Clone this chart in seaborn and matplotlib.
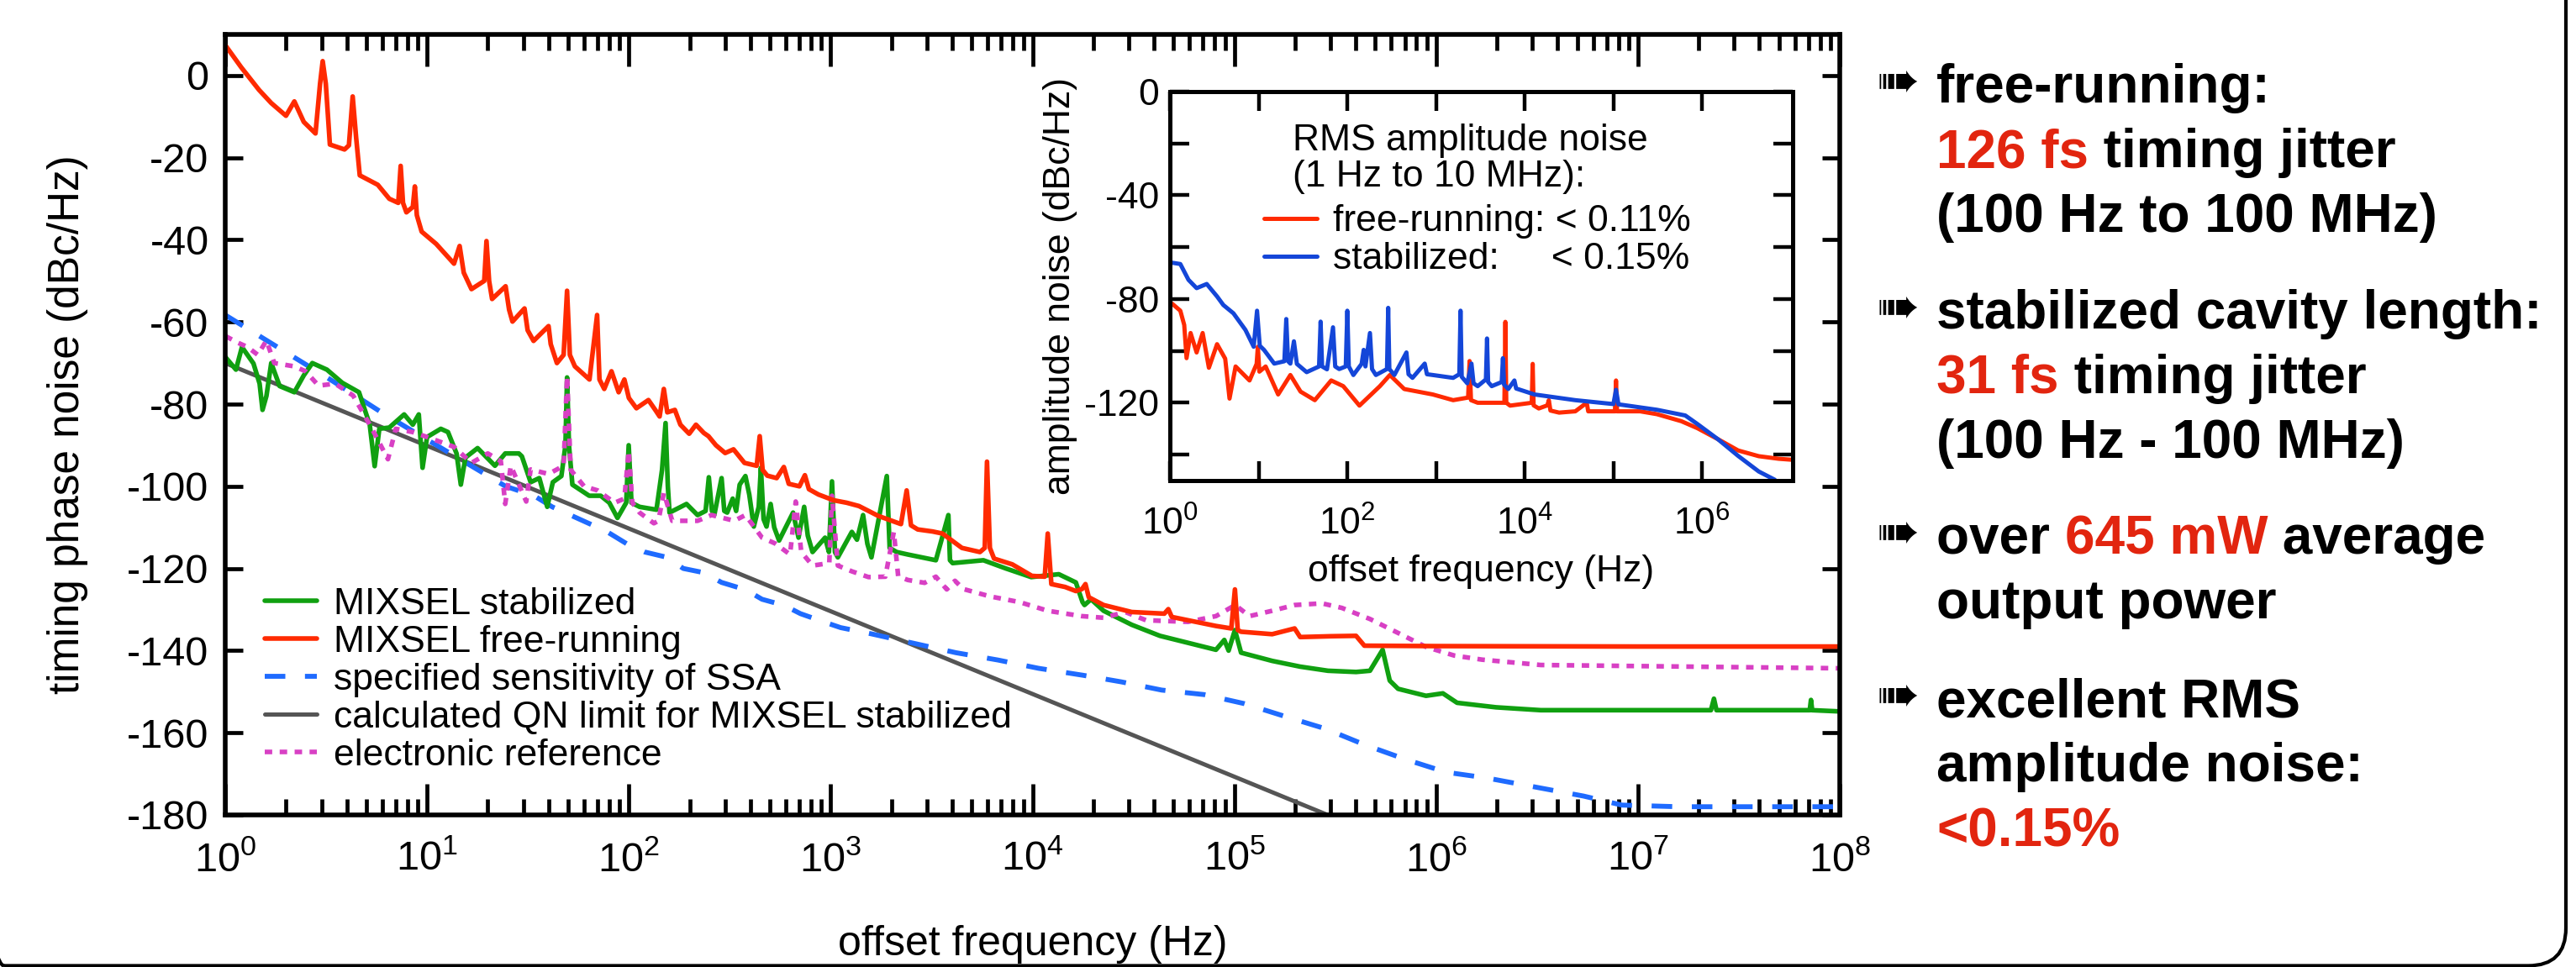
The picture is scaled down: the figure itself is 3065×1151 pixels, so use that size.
import numpy as np
import matplotlib.pyplot as plt
import seaborn as sns
from matplotlib.ticker import LogLocator, NullLocator, NullFormatter
from matplotlib.patches import FancyBboxPatch
from matplotlib.transforms import IdentityTransform

# ── Data ──────────────────────────────────────────────────────────────────────
# main plot: timing phase noise (dBc/Hz) vs offset frequency (Hz)
free_f = [1, 1.2, 1.47, 1.69, 2.0, 2.2, 2.45, 2.8, 2.95, 3.04, 3.15, 3.3, 3.9, 4.1, 4.28, 4.45,
          4.64, 5.7, 6.5, 7.2, 7.4, 7.6, 7.9, 8.5, 8.7, 8.9, 9.4, 11.1, 13.6, 14.5, 15.2, 16.6,
          19.2, 19.7, 20.3, 21, 24.5, 25.5, 26.5, 30.4, 31.5, 33.7, 40, 41, 44, 47.5, 49.4, 51,
          54, 63.8, 69.6, 71.5, 75.5, 82, 89, 95, 100, 109, 125, 136, 142, 149, 155, 169, 180,
          199, 215, 235, 248, 270, 300, 330, 374, 430, 445, 460, 485, 540, 586, 620, 700, 745,
          780, 870, 1035, 1200, 1380, 1720, 2230, 2380, 2500, 2700, 3200, 3580, 4470, 5490,
          5800, 5950, 6150, 6450, 7940, 9930, 11500, 11900, 12400, 14500, 16400, 17600, 18300,
          19000, 22500, 31000, 45000, 47100, 49000, 58900, 81100, 96600, 100700, 104000,
          108000, 154000, 199000, 212000, 300000, 401000, 441000, 1e6, 1e7, 1e8]
free_db = [7.4, 2, -3.5, -6.7, -9.8, -6.3, -11.3, -14.1, -2, 3.5, -2, -16.8, -18, -17, -5.1, -15,
           -24.3, -26.6, -30, -31, -22, -31, -33.3, -32, -27, -34, -38, -41, -45.8, -41.5, -48, -52,
           -50, -40.3, -50, -54.4, -51.3, -57, -59.9, -56.7, -62, -64.6, -61, -65.4, -70, -68, -52.4, -68,
           -70.8, -74, -58.3, -74, -76.3, -72, -77.1, -74, -78.5, -81, -79, -81.6, -83, -76.3, -82, -81.4, -85,
           -87.2, -85, -87, -87.8, -90, -91.9, -91, -94.3, -95, -87.8, -96, -97.4, -98, -95.3, -99.4, -100, -97.3,
           -100.7, -102, -103.4, -104, -104.8, -107.2, -109.2, -101, -109.5, -110.5, -111, -111.5, -115, -116,
           -115, -94, -115, -117.6, -119, -121.8, -122, -111.5, -123.8, -124.5, -125.5, -125, -123.8,
           -127, -128.9, -130.6, -131, -129.9, -131.8, -132.6, -134, -134.6, -125.1, -135,
           -135.4, -136, -134.6, -136.7, -136.5, -136.4, -138.8, -138.9, -139, -139]

stab_f = [1, 1.13, 1.21, 1.38, 1.48, 1.53, 1.6, 1.69, 1.86, 2.2, 2.45, 2.7, 3.19, 3.8, 4.6, 5.2,
          5.5, 5.8, 6.5, 7.7, 8.5, 9.1, 9.5, 10, 11.7, 12.7, 14, 14.7, 15.5, 17.8, 21.7, 24.4, 28.5,
          29.5, 32.6, 36, 39.4, 42, 46.3, 48.5, 49.4, 50.5, 52.5, 63.6, 72.5, 80, 87.8, 97, 99.8, 103,
          113, 137, 146, 152, 156, 159, 193, 219, 240, 249, 258, 265, 288, 297, 307, 327, 340, 354,
          378, 395, 416, 440, 451, 465, 481, 504, 525, 555, 651, 693, 739, 770, 813, 938, 980, 1015,
          1050, 1085, 1273, 1350, 1447, 1520, 1592, 1897, 1960, 2123, 2410, 3320, 3830, 3900, 4020,
          5710, 7380, 9850, 13500, 16400, 17700, 18100, 19500, 22500, 31000, 42800, 58900, 81100,
          89200, 93700, 100700, 108000, 154000, 212000, 291000, 401000, 470000, 543000, 589000,
          648000, 891000, 1.08e6, 1.27e6, 1.98e6, 3.3e6, 2.3e7, 2.38e7, 2.45e7, 7.1e7, 7.2e7, 7.3e7, 1e8]
stab_db = [-68.5, -71.6, -66.1, -70.1, -75, -81.4, -78, -70, -75.6, -77.1, -73, -70, -71.6, -74.8, -77.1, -85,
           -95.1, -86, -85.7, -82.5, -85, -82.5, -95.5, -88, -86, -86.8, -92, -99.6, -93, -90.7, -95, -92, -92,
           -92.7, -99, -98, -105, -99, -97.5, -90, -73.5, -90, -99.6, -102.3, -102.3, -104, -107.7, -104, -90, -104,
           -105, -105.7, -96, -84.6, -100, -106.4, -104.3, -107, -106, -97.8, -106, -107, -98, -106, -106.4, -103, -106, -99.6,
           -97.5, -102, -109.8, -105, -95.5, -108, -109.8, -104.3, -110, -113.2, -106.4, -112.5, -105, -112, -116, -112.5, -116, -98.8,
           -116, -117.3, -111.1, -113, -107, -114, -117.3, -97.5, -115, -116, -116.6, -118, -107, -118, -118.7,
           -118, -120, -122.1, -121.4, -123.4, -128.2, -128.9, -127.5, -130.3, -133.7, -136.4, -138.1, -139.8,
           -137.4, -140, -135, -140.5, -142.5, -143.9, -144.9, -145.2, -144.9, -139.8, -147.3,
           -149.3, -151, -150.4, -152.7, -153.8, -154.5, -154.5, -151.7, -154.5, -154.5, -152, -154.5, -154.8]

ssa_f = [1, 3.24, 6.17, 24.5, 33.9, 41.7, 51.3, 63.1, 77.6, 97.7, 120, 155, 186, 234, 288, 380, 457,
         589, 708, 923, 1120, 1585, 2570, 4170, 6760, 10700, 17800, 27500, 43600, 70800, 112000,
         178000, 282000, 447000, 708000, 1.12e6, 1.78e6, 5.37e6, 8.32e6, 1.58e7, 1e8]
ssa_db = [-58.3, -73.7, -82.5, -100, -102.3, -105, -107, -109, -111, -114, -116, -117.3, -120, -121, -123.4, -125.2, -127.5,
          -129, -131, -133, -134.4, -135.9, -138.2, -140.5, -142.3, -144.3, -146, -147.6, -149.6, -150.7, -152.9,
          -156, -159, -163, -166.5, -169.6, -171, -175.4, -177.6, -178, -178]

qn_f = [1, 2.9e5]
qn_db = [-70, -180]

ref_f = [1, 1.15, 1.29, 1.45, 1.6, 1.75, 2.2, 2.5, 2.9, 3.5, 4.3, 5.3, 6.4, 7, 8.5, 10, 13.6, 16.6, 20,
         23.2, 24.4, 26, 31, 32.6, 40, 47.5, 49.4, 51.5, 60, 70, 85, 95, 99.8, 104, 113, 133, 140, 149, 164,
         219, 257, 333, 378, 457, 530, 629, 671, 715, 813, 984, 1015, 1085, 1273, 1540, 1866, 2055, 2160,
         2410, 2920, 3320, 3760, 4130, 4540, 6160, 8650, 11900, 17500, 22500, 28800, 36500, 58900, 81100,
         101000, 119000, 154000, 199000, 272000, 341000, 470000, 648000, 891000, 1.23e6, 1.69e6, 3.3e6, 1e8]
ref_db = [-63.4, -65, -66.1, -68, -64.5, -70, -70.8, -72, -75.5, -75, -77.9, -85.7, -93.4, -86, -86.8, -88, -90.4, -94.3, -92,
          -93.9, -104.3, -95, -103.7, -95.9, -97, -95, -73.2, -96, -100, -101, -104, -103, -91.4, -104, -106.4, -109, -108.4, -101.6, -108.4,
          -108.4, -107, -108.4, -107, -112.5, -113.9, -116.6, -103.7, -116, -119.3, -118.7, -102.3, -119.3, -120.7, -122.1, -122, -111.1, -121.9,
          -122.8, -123.5, -122, -125.1, -123, -125, -126.8, -128.2, -130.3, -131.6, -132, -130.6, -132.6, -133, -131.6,
          -128.9, -131.6, -130.3, -128.9, -128.5, -129.6, -132.3, -135.7, -139.1, -141.2, -142.2, -143.5, -144.3]

# inset: amplitude noise (dBc/Hz)
amp_free_f = [1, 1.06, 1.31, 1.45, 1.54, 1.71, 2.0, 2.34, 2.75, 3.4, 4.2, 4.7, 5.5, 7.9, 9.5, 9.8, 10.2,
              12, 16.6, 22.8, 29.7, 43, 65.8, 90, 137, 233, 302, 438, 920, 1560, 2300, 2390, 2480, 2950,
              5900, 6050, 6200, 6840, 12000, 12300, 12600, 14400, 18000, 18700, 19500, 24400, 37200,
              50000, 52000, 104000, 107000, 110000, 200000, 309000, 582000, 885000, 1.5e6, 2.55e6,
              4.35e6, 7.3e6, 1.05e7]
amp_free_db = [-81.5, -81.8, -84.5, -90, -102.8, -93.1, -100.6, -93.1, -106.5, -97.4, -103, -118.4, -106, -111.4, -105, -98.4, -108,
               -106, -116.8, -109.3, -115.7, -119, -111.4, -113.6, -121.1, -113.6, -109.3, -114.7, -116.8, -119, -118, -103.9, -119, -120,
               -120, -88.8, -120, -121.1, -120, -105, -121, -122.2, -121, -119, -123, -123.8, -123.3,
               -120, -123.3, -123.3, -111.4, -123.3, -123.3, -124.4, -127.1, -129.8, -134, -138.4,
               -140.6, -141.6, -142]

amp_stab_f = [1, 1.06, 1.31, 1.62, 2.0, 2.6, 3.4, 4, 5.2, 7.1, 8.8, 9.6, 10.3, 11.5, 15, 19.5, 20.5, 21.5,
              22.8, 25, 27, 34.8, 48, 50, 52, 59, 69, 73, 81, 96, 100, 104, 117, 145, 153, 160, 180, 190,
              210, 280, 289, 298, 339, 464, 490, 543, 746, 790, 920, 1560, 1830, 1890, 1950, 2250, 2510,
              2650, 2950, 3650, 3760, 3870, 4250, 5500, 5680, 5860, 6520, 7650, 8000, 12900, 37200,
              100000, 107000, 114000, 309000, 646000, 885000, 1.5e6, 2.55e6, 4.35e6, 6.6e6]
amp_stab_db = [-65.8, -66, -66.5, -72.6, -75.8, -74.2, -79, -82.3, -85.5, -91.9, -98.4, -84.5, -98, -99.6, -104.9, -104, -87.7, -104,
               -104.9, -96.3, -105, -108.2, -106, -88.7, -106, -107.1, -90.9, -106, -107, -106, -84.5, -106, -109.3, -105, -99.6, -106, -93.1, -107,
               -109.3, -107, -83.4, -107, -109.3, -100.6, -109, -110.4, -104.9, -109, -109.3, -110.4, -109, -84.5, -110, -112.5, -104.9,
               -112.5, -113.6, -111, -95.2, -112, -113.6, -112, -102.8, -113, -114.7, -111.4, -114.5, -116.8, -119,
               -120.5, -115, -120.6, -122.7, -124.9, -128.2, -134, -140.5, -146.5, -149.7]

main_labels = ['MIXSEL stabilized', 'MIXSEL free-running', 'specified sensitivity of SSA',
               'calculated QN limit for MIXSEL stabilized', 'electronic reference']
inset_labels = ['free-running: < 0.11%', 'stabilized:     < 0.15%']
inset_title = ['RMS amplitude noise', '(1 Hz to 10 MHz):']

RED_TXT = '#e2250f'
bullets = [
    [[('free-running:', 'black')],
     [('126 fs', RED_TXT), (' timing jitter', 'black')],
     [('(100 Hz to 100 MHz)', 'black')]],
    [[('stabilized cavity length:', 'black')],
     [('31 fs', RED_TXT), (' timing jitter', 'black')],
     [('(100 Hz - 100 MHz)', 'black')]],
    [[('over ', 'black'), ('645 mW', RED_TXT), (' average', 'black')],
     [('output power', 'black')]],
    [[('excellent RMS', 'black')],
     [('amplitude noise:', 'black')],
     [('<0.15%', RED_TXT)]],
]
bullet_baselines = [122, 391, 659, 853]   # first-line baseline, px from top
line_step = 77

# ── Style ─────────────────────────────────────────────────────────────────────
sns.set_theme(style='ticks', rc={'axes.edgecolor': 'black', 'xtick.color': 'black',
                                 'ytick.color': 'black', 'text.color': 'black',
                                 'axes.labelcolor': 'black'})
plt.rcParams['font.family'] = ['Liberation Sans', 'DejaVu Sans']
plt.rcParams.update({
    'mathtext.fontset': 'custom', 'mathtext.rm': 'Liberation Sans',
    'mathtext.it': 'Liberation Sans:italic', 'mathtext.bf': 'Liberation Sans:bold',
    'mathtext.default': 'regular', 'axes.unicode_minus': False,
})

C_RED, C_GREEN, C_BLUE = '#ff2a00', '#10a010', '#1f6bff'
C_GRAY, C_MAG, C_BLUE2 = '#555555', '#d840c4', '#1446d8'

W, H = 3065, 1151
fig = plt.figure(figsize=(W / 100, H / 100), dpi=100)


def draw(a, f, db, color, lw=4.0, dashes=None):
    sns.lineplot(x=f, y=db, ax=a, color=color, linewidth=lw, estimator=None,
                 sort=False, legend=False)
    line = a.lines[-1]
    if dashes:
        line.set_dashes(dashes)
        line.set_dash_capstyle('butt')
    return line


# ── Main axes ─────────────────────────────────────────────────────────────────
ax = fig.add_axes([268 / W, 1 - 970 / H, (2189 - 268) / W, 929 / H])
ax.set_xscale('log')
l_qn = draw(ax, qn_f, qn_db, C_GRAY, lw=3.6)
l_ssa = draw(ax, ssa_f, ssa_db, C_BLUE, lw=4.2, dashes=(4.2, 4))
l_stab = draw(ax, stab_f, stab_db, C_GREEN)
l_ref = draw(ax, ref_f, ref_db, C_MAG, lw=4.0, dashes=(1.6, 1.6))
l_free = draw(ax, free_f, free_db, C_RED)

ax.set_xlim(1, 1e8)
ax.set_ylim(-180, 10)
ax.set_xticks([10 ** i for i in range(9)])
ax.set_xticklabels(['$10^{%d}$' % i for i in range(9)])
ax.xaxis.set_minor_locator(LogLocator(base=10, subs=np.arange(2, 10), numticks=100))
ax.xaxis.set_minor_formatter(NullFormatter())
ax.set_yticks(np.arange(-180, 1, 20))
ax.tick_params(which='both', direction='in', top=True, right=True, width=3.4, labelsize=35)
ax.tick_params(axis='x', which='major', length=27, pad=22)
ax.tick_params(axis='x', which='minor', length=14)
ax.tick_params(axis='y', which='major', length=15, pad=14)
for s in ax.spines.values():
    s.set_linewidth(4.0)
ax.set_xlabel('offset frequency (Hz)', fontsize=36)
ax.xaxis.set_label_coords(0.5, -0.141)
ax.set_ylabel('timing phase noise (dBc/Hz)', fontsize=37)
ax.yaxis.set_label_coords(-0.085, 0.5)

ax.legend(handles=[l_stab, l_free, l_ssa, l_qn, l_ref], labels=main_labels,
          loc='upper left', bbox_to_anchor=(0.0245, 0.292), frameon=False,
          fontsize=32, handlelength=1.4, handletextpad=0.45, labelspacing=0.09,
          borderpad=0, borderaxespad=0)

# ── Inset ─────────────────────────────────────────────────────────────────────
ax_in = fig.add_axes([1392 / W, 1 - 572 / H, (2133 - 1392) / W, 463 / H])
ax_in.set_facecolor('white')
ax_in.set_xscale('log')
li_free = draw(ax_in, amp_free_f, amp_free_db, C_RED, lw=3.6)
li_stab = draw(ax_in, amp_stab_f, amp_stab_db, C_BLUE2, lw=3.6)
ax_in.set_xlim(1, 1.05e7)
ax_in.set_ylim(-150, 0)
ax_in.set_xticks([10 ** i for i in range(7)])
ax_in.set_xticklabels(['$10^{%d}$' % i if i % 2 == 0 else '' for i in range(7)])
ax_in.xaxis.set_minor_locator(NullLocator())
ax_in.set_yticks([0, -40, -80, -120])
ax_in.set_yticks([-20, -60, -100, -140], minor=True)
ax_in.tick_params(which='both', direction='in', top=True, right=True, length=16.5,
                  width=3.2, labelsize=32)
ax_in.tick_params(axis='x', pad=22)
ax_in.tick_params(axis='y', pad=9.5)
for s in ax_in.spines.values():
    s.set_linewidth(3.6)
ax_in.set_xlabel('offset frequency (Hz)', fontsize=32)
ax_in.xaxis.set_label_coords(0.5, -0.19)
ax_in.set_ylabel('amplitude noise (dBc/Hz)', fontsize=32)
ax_in.yaxis.set_label_coords(-0.148, 0.5)

ax_in.text(0.197, 0.873, inset_title[0], transform=ax_in.transAxes, fontsize=32, va='center')
ax_in.text(0.197, 0.78, inset_title[1], transform=ax_in.transAxes, fontsize=32, va='center')
ax_in.legend(handles=[li_free, li_stab], labels=inset_labels, loc='upper left',
             bbox_to_anchor=(0.151, 0.71), frameon=False, fontsize=32,
             handlelength=1.42, handletextpad=0.43, labelspacing=0.09,
             borderpad=0, borderaxespad=0)

# ── Right-hand bullet text ────────────────────────────────────────────────────
renderer = fig.canvas.get_renderer()
txt_kw = dict(fontsize=46, fontweight='bold', va='baseline', ha='left')


def advance(s):
    # width of s including trailing spaces, in figure fraction
    t1 = fig.text(0, 0, s + '|', **txt_kw)
    t2 = fig.text(0, 0, '|', **txt_kw)
    w = t1.get_window_extent(renderer).width - t2.get_window_extent(renderer).width
    t1.remove()
    t2.remove()
    return w / fig.bbox.width


x0 = 2304 / W
for block, base in zip(bullets, bullet_baselines):
    fig.text(2232 / W, 1 - (base - 6) / H, '\u27a0', fontsize=44, va='baseline', ha='left',
             family=['DejaVu Sans'])
    for k, parts in enumerate(block):
        y = 1 - (base + k * line_step) / H
        x = x0
        for s, c in parts:
            fig.text(x, y, s, color=c, **txt_kw)
            x += advance(s)

# slide frame (bottom edge sits on the last pixel rows)
frame = FancyBboxPatch((-40, 1.5), 3093, 1400, boxstyle='round,pad=0,rounding_size=45',
                       transform=IdentityTransform(), fill=False, edgecolor='black',
                       linewidth=3)
fig.add_artist(frame)

fig.savefig('out.png', dpi=100)
plt.close()
